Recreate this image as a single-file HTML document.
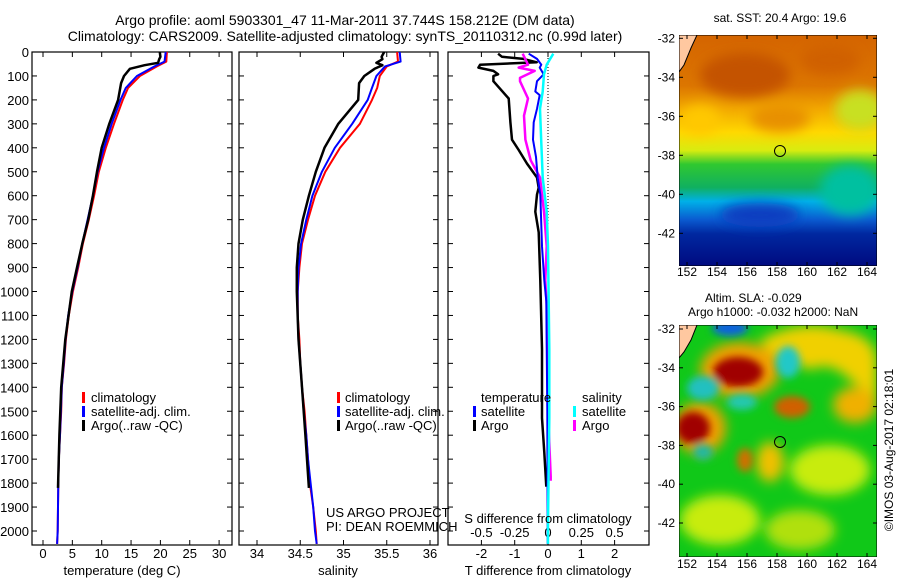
<!DOCTYPE html>
<html><head><meta charset="utf-8"><style>
html,body{margin:0;padding:0;background:#fff;width:900px;height:580px;overflow:hidden}
svg{display:block;font-family:"Liberation Sans",sans-serif}
text{font-size:13px;fill:#000}
</style></head><body>
<svg id="fig" width="900" height="580" viewBox="0 0 900 580">
<defs>
<linearGradient id="sstg" x1="0" y1="0" x2="0" y2="1">
<stop offset="0" stop-color="#d46400"/><stop offset="0.22" stop-color="#dc7600"/>
<stop offset="0.32" stop-color="#f2a800"/><stop offset="0.42" stop-color="#ffd800"/>
<stop offset="0.5" stop-color="#d8ec10"/><stop offset="0.56" stop-color="#30c830"/>
<stop offset="0.66" stop-color="#10b060"/><stop offset="0.72" stop-color="#00b0e8"/>
<stop offset="0.8" stop-color="#0a5ad0"/><stop offset="0.86" stop-color="#0028a0"/>
<stop offset="1" stop-color="#000a80"/></linearGradient>
<filter id="bl" x="-50%" y="-50%" width="200%" height="200%"><feGaussianBlur stdDeviation="6"/></filter>
<filter id="bl2" x="-50%" y="-50%" width="200%" height="200%"><feGaussianBlur stdDeviation="4"/></filter>
<clipPath id="c1"><rect x="679" y="35" width="198" height="231"/></clipPath>
<clipPath id="c2"><rect x="679" y="325" width="198" height="232"/></clipPath>
</defs>
<text x="345" y="25" text-anchor="middle" style="font-size:14px">Argo profile: aoml 5903301_47 11-Mar-2011 37.744S 158.212E (DM data)</text>
<text x="345" y="41" text-anchor="middle" style="font-size:14px">Climatology: CARS2009. Satellite-adjusted climatology: synTS_20110312.nc (0.99d later)</text>

<g id="ylabels"></g>
<g id="plots"></g>

<g>
<rect x="82" y="392" width="3" height="11" fill="#f00"/><text x="91" y="402">climatology</text>
<rect x="82" y="406" width="3" height="11" fill="#00f"/><text x="91" y="416">satellite-adj. clim.</text>
<rect x="82" y="420" width="3" height="11" fill="#000"/><text x="91" y="430">Argo(..raw -QC)</text>
</g>
<g>
<rect x="337" y="392" width="3" height="11" fill="#f00"/><text x="345" y="402">climatology</text>
<rect x="337" y="406" width="3" height="11" fill="#00f"/><text x="345" y="416">satellite-adj. clim.</text>
<rect x="337" y="420" width="3" height="11" fill="#000"/><text x="345" y="430">Argo(..raw -QC)</text>
</g>
<text x="326" y="517">US ARGO PROJECT</text>
<text x="326" y="531">PI: DEAN ROEMMICH</text>
<g>
<text x="481" y="402">temperature</text><text x="582" y="402">salinity</text>
<rect x="473" y="406" width="3" height="11" fill="#00f"/><text x="481" y="416">satellite</text>
<rect x="473" y="420" width="3" height="11" fill="#000"/><text x="481" y="430">Argo</text>
<rect x="573" y="406" width="3" height="11" fill="#0ff"/><text x="582" y="416">satellite</text>
<rect x="573" y="420" width="3" height="11" fill="#f0f"/><text x="582" y="430">Argo</text>
</g>
<text x="548" y="523" text-anchor="middle">S difference from climatology</text>
<text x="122" y="575" text-anchor="middle">temperature (deg C)</text>
<text x="338" y="575" text-anchor="middle">salinity</text>
<text x="548" y="575" text-anchor="middle">T difference from climatology</text>

<!-- SST map -->
<g clip-path="url(#c1)">
<rect x="679" y="35" width="198" height="231" fill="url(#sstg)"/>
<g filter="url(#bl)">
<ellipse cx="745" cy="75" rx="45" ry="22" fill="#c45200"/>
<ellipse cx="830" cy="60" rx="30" ry="15" fill="#d06000"/>
<ellipse cx="700" cy="120" rx="20" ry="15" fill="#ffc800"/>
<ellipse cx="780" cy="118" rx="30" ry="14" fill="#e89000"/>
<ellipse cx="860" cy="110" rx="25" ry="20" fill="#c8e020"/>
<ellipse cx="850" cy="190" rx="30" ry="25" fill="#00c0a0"/>
<ellipse cx="760" cy="215" rx="40" ry="12" fill="#0a3cc0"/>
</g>
<path d="M679,35 L697,35 L691,48 L684,65 L679,72 Z" fill="#ffc8a0" stroke="#000" stroke-width="1"/>
<rect x="679" y="35" width="198" height="231" fill="none" stroke="#000"/>
<circle cx="780" cy="151" r="5.5" fill="none" stroke="#000"/>
</g>
<text x="780" y="22" text-anchor="middle" style="font-size:12px">sat. SST: 20.4 Argo: 19.6</text>
<!-- SLA map -->
<g clip-path="url(#c2)">
<rect x="679" y="325" width="198" height="232" fill="#10c818"/>
<g filter="url(#bl)">
<path d="M760,340 Q800,318 840,330 Q875,335 877,360 L877,400 L850,380 Q830,360 810,370 Q785,360 770,355 Z" fill="#f0d000"/>
<ellipse cx="830" cy="470" rx="40" ry="25" fill="#c8ec10"/>
<ellipse cx="720" cy="520" rx="40" ry="25" fill="#c8ec10"/>
<ellipse cx="800" cy="530" rx="35" ry="20" fill="#b0e010"/>
<ellipse cx="855" cy="405" rx="22" ry="18" fill="#f0b000"/>
<ellipse cx="740" cy="370" rx="40" ry="28" fill="#f0a000"/>
<ellipse cx="700" cy="428" rx="26" ry="26" fill="#f0a000"/>
<ellipse cx="770" cy="462" rx="14" ry="20" fill="#f0c000"/>
</g>
<g filter="url(#bl2)">
<ellipse cx="738" cy="372" rx="25" ry="15" fill="#a00000"/>
<ellipse cx="693" cy="428" rx="17" ry="16" fill="#a00000"/>
<ellipse cx="792" cy="407" rx="18" ry="11" fill="#d06000"/>
<ellipse cx="745" cy="460" rx="8" ry="12" fill="#d07000"/>
<ellipse cx="788" cy="362" rx="12" ry="16" fill="#20c8c8"/>
<ellipse cx="703" cy="388" rx="16" ry="12" fill="#20c0c0"/>
<ellipse cx="742" cy="402" rx="15" ry="8" fill="#20c8b0"/>
<ellipse cx="730" cy="328" rx="18" ry="8" fill="#1060e0"/>
<ellipse cx="703" cy="452" rx="10" ry="8" fill="#20b8a0"/>
</g>
<path d="M679,325 L697,325 L691,340 L684,352 L679,358 Z" fill="#ffc8a0" stroke="#000" stroke-width="1"/>
<rect x="679" y="325" width="198" height="232" fill="none" stroke="#000"/>
<circle cx="780" cy="442" r="5.5" fill="none" stroke="#000"/>
</g>
<text x="705" y="302" style="font-size:12px">Altim. SLA: -0.029</text>
<text x="688" y="316" style="font-size:12px">Argo h1000: -0.032 h2000: NaN</text>
<text transform="translate(893,450) rotate(-90)" text-anchor="middle" style="font-size:12px">©IMOS 03-Aug-2017 02:18:01</text>
<g id="maplabels"></g>
</svg>
<script>
// ---- data ----
const climDepth=[0,40,60,100,150,200,300,400,500,600,700,800,900,1000,1100,1200,1300,1400,1500,1600,1700,1800,1900,2000,2054];
const climT=[21.1,21.0,19.4,16.5,14.5,13.6,12.1,10.7,9.5,8.7,7.8,6.8,6.0,5.1,4.4,3.9,3.6,3.2,3.1,2.9,2.7,2.6,2.55,2.5,2.4];
const satT=[20.9,20.7,19.0,16.0,14.1,13.2,11.7,10.4,9.3,8.5,7.6,6.7,5.9,5.0,4.3,3.85,3.55,3.2,3.05,2.9,2.7,2.6,2.55,2.5,2.4];
const climS=[35.62,35.63,35.5,35.42,35.39,35.33,35.19,34.96,34.79,34.67,34.59,34.52,34.49,34.47,34.47,34.49,34.5,34.52,34.55,34.57,34.59,34.61,34.65,34.68,34.69];
const satS=[35.65,35.66,35.48,35.38,35.33,35.28,35.1,34.9,34.75,34.64,34.57,34.51,34.48,34.47,34.47,34.48,34.5,34.52,34.54,34.57,34.59,34.62,34.65,34.67,34.69];
const argoDepth=[0,20,30,45,55,70,100,130,200,300,400,500,600,700,800,900,1000,1200,1400,1600,1820];
const argoT=[19.9,20.0,19.8,19.6,17.3,14.8,13.8,13.3,12.8,11.3,10.0,9.2,8.5,7.7,6.7,5.8,4.9,3.8,3.1,2.8,2.55];
const argoS=[35.47,35.44,35.45,35.38,35.45,35.36,35.24,35.18,35.17,34.94,34.78,34.68,34.6,34.53,34.48,34.46,34.46,34.48,34.52,34.56,34.6];
const dArgoTDepth=[7,20,29,43,53,65,79,93,100,122,194,294,366,409,466,524,567,595,667,753,954,1241,1528,1672,1815];
const dArgoT=[-1.5,-1.38,-0.74,-0.34,-2.04,-2.09,-1.64,-1.5,-1.64,-1.64,-1.18,-1.13,-1.08,-0.88,-0.63,-0.33,-0.28,-0.33,-0.38,-0.28,-0.23,-0.18,-0.18,-0.11,-0.05];
const dSatTDepth=[7,29,53,65,93,122,165,180,237,294,366,438,524,595,811,954,1040,1500,2054];
const dSatT=[-0.58,-0.33,-0.2,-0.25,-0.13,-0.33,-0.38,-0.25,-0.33,-0.43,-0.45,-0.36,-0.31,-0.23,-0.18,-0.11,-0.05,-0.02,-0.01];
const dArgoSDepth=[7,53,65,79,108,122,194,266,366,452,524,667,811,954,1055,1500,1772,1790];
const dArgoS=[-0.19,-0.15,-0.22,-0.1,-0.21,-0.21,-0.15,-0.18,-0.17,-0.13,-0.06,-0.03,-0.01,-0.02,-0.01,0.0,0.02,0.02];
const dSatSDepth=[7,53,93,165,237,380,524,667,811,1241,1528,1958,2054];
const dSatS=[0.04,-0.01,-0.03,-0.04,-0.06,-0.05,-0.04,-0.01,0.0,0.01,0.01,0.0,0.0];
const depthTicks=[0,100,200,300,400,500,600,700,800,900,1000,1100,1200,1300,1400,1500,1600,1700,1800,1900,2000];
const tTicks=[0,5,10,15,20,25,30];
const sTicks=[34,34.5,35,35.5,36];
const sTickLabels=["34","34.5","35","35.5","36"];
const dTTicks=[-2,-1,0,1,2];
const dSTicks=[-0.5,-0.25,0,0.25,0.5];
const dSTickLabels=["-0.5","-0.25","0","0.25","0.5"];
const lonTicks=[152,154,156,158,160,162,164];
const latTicks=[-32,-34,-36,-38,-40,-42];

// ---- axes ----
const NS='http://www.w3.org/2000/svg';
const yD=d=>52+d*0.2395;
const xT=v=>43+v*5.87;
const xS=v=>257+(v-34)*86.5;
const xDT=v=>548+v*33.3;
const xDS=v=>548+v*133.2;
const xLon=l=>687+(l-152)*15;
const yLat1=l=>38.3+(-32-l)*19.5;
const yLat2=l=>329+(-32-l)*19.4;
const svg=document.getElementById('plots');
function mk(tag,attrs,parent){const e=document.createElementNS(NS,tag);for(const k in attrs)e.setAttribute(k,attrs[k]);(parent||svg).appendChild(e);return e;}
function txt(x,y,s,anchor,parent,size){const t=mk('text',{x:x,y:y,'text-anchor':anchor||'middle'},parent);if(size)t.style.fontSize=size;t.textContent=s;return t;}
function series(depths,vals,xf,color,w,name){
  const pts=depths.map((d,i)=>xf(vals[i]).toFixed(1)+','+yD(d).toFixed(1)).join(' ');
  const p=mk('polyline',{points:pts,fill:'none',stroke:color,'stroke-width':w,'stroke-linejoin':'round'});
  
  
}
const panels=[[32,232],[239,438],[448,649]];
panels.forEach((pp,i)=>{
  const r=mk('rect',{x:pp[0],y:52,width:pp[1]-pp[0],height:493,fill:'none',stroke:'#000','stroke-width':1.2});
  
  
  depthTicks.forEach(d=>{
    mk('line',{x1:pp[0],x2:pp[0]+5,y1:yD(d),y2:yD(d),stroke:'#000'});
    mk('line',{x1:pp[1]-5,x2:pp[1],y1:yD(d),y2:yD(d),stroke:'#000'});
  });
});
const yl=document.getElementById('ylabels');
depthTicks.forEach(d=>{const t=txt(29,yD(d)+5,String(d),'end',yl);});
function xticks(ticks,labels,xf,ly){
  ticks.forEach((v,i)=>{const x=xf(v);
    mk('line',{x1:x,x2:x,y1:52,y2:57,stroke:'#000'});
    mk('line',{x1:x,x2:x,y1:540,y2:545,stroke:'#000'});
    txt(x,ly,labels[i]);});
}
xticks(tTicks,tTicks.map(String),xT,558);
xticks(sTicks,sTickLabels,xS,558);
xticks(dTTicks,dTTicks.map(String),xDT,558);
dSTicks.forEach((v,i)=>{txt(xDT(dTTicks[i]),537,dSTickLabels[i]);});
const zl=mk('line',{x1:548,x2:548,y1:52,y2:545,stroke:'#000','stroke-dasharray':'1,2'});



// ---- series ----
series(climDepth,climT,xT,'#f00',2,'temperature-climatology-line');
series(climDepth,satT,xT,'#00f',2,'temperature-satellite-line');
series(argoDepth,argoT,xT,'#000',2.5,'temperature-argo-line');
series(climDepth,climS,xS,'#f00',2,'salinity-climatology-line');
series(climDepth,satS,xS,'#00f',2,'salinity-satellite-line');
series(argoDepth,argoS,xS,'#000',2.5,'salinity-argo-line');
series(dArgoTDepth,dArgoT,xDT,'#000',2.5,'t-diff-argo-line');
series(dArgoSDepth,dArgoS,xDS,'#f0f',2.5,'s-diff-argo-line');
series(dSatTDepth,dSatT,xDT,'#00f',2,'t-diff-satellite-line');
series(dSatSDepth,dSatS,xDS,'#0ff',2.5,'s-diff-satellite-line');

// ---- map labels ----
const ml=document.getElementById('maplabels');
[[yLat1,35,266,276],[yLat2,325,557,568]].forEach(m=>{
  latTicks.forEach(l=>{const y=m[0](l);
    txt(675,y+4,String(l),'end',ml,'12px');
    mk('line',{x1:679,x2:683,y1:y,y2:y,stroke:'#000'},ml);
    mk('line',{x1:873,x2:877,y1:y,y2:y,stroke:'#000'},ml);});
  lonTicks.forEach(l=>{const x=xLon(l);
    txt(x,m[3],String(l),'middle',ml,'12px');
    mk('line',{x1:x,x2:x,y1:m[1],y2:m[1]+4,stroke:'#000'},ml);
    mk('line',{x1:x,x2:x,y1:m[2]-4,y2:m[2],stroke:'#000'},ml);});
});
</script>
</body></html>
